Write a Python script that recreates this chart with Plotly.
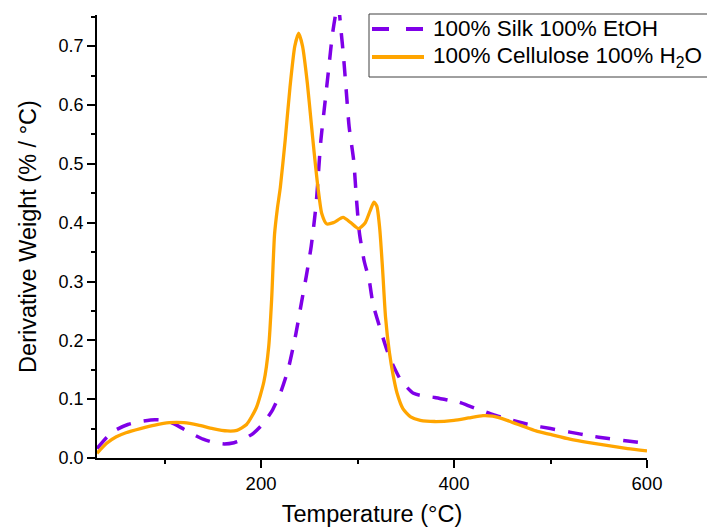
import plotly.graph_objects as go

# Cellulose 100% H2O (orange, solid)
cel_t = [30, 40, 50, 60, 75, 90, 105, 120, 135, 150, 165, 175, 185, 195, 203, 208, 211, 214, 217, 220,
         225, 230, 235, 239, 243, 248, 252, 255, 259, 263, 268, 275, 285, 293, 301, 308, 313, 317, 320,
         323, 326, 329, 333, 337, 341, 347, 355, 365, 380, 400, 415, 430, 440, 455, 470, 485, 500, 520,
         540, 560, 580, 600]
cel_y = [0.008, 0.025, 0.036, 0.043, 0.050, 0.056, 0.060, 0.060, 0.056, 0.050, 0.046, 0.047, 0.057,
         0.085, 0.13, 0.19, 0.27, 0.38, 0.425, 0.46, 0.54, 0.63, 0.70, 0.722, 0.70, 0.637, 0.57, 0.52,
         0.46, 0.415, 0.398, 0.400, 0.409, 0.400, 0.390, 0.400, 0.420, 0.435, 0.428, 0.39, 0.32, 0.24,
         0.18, 0.14, 0.11, 0.084, 0.070, 0.064, 0.062, 0.064, 0.068, 0.072, 0.071, 0.064, 0.055, 0.046,
         0.040, 0.032, 0.026, 0.021, 0.016, 0.012]

# Silk 100% EtOH (purple, dashed)
silk_t = [30, 40, 50, 62, 75, 90, 100, 110, 120, 130, 140, 152, 162, 172, 182, 192, 202, 212, 220, 228,
          236, 242, 247, 252, 257, 262, 266, 270, 274, 278, 280, 283, 285.5, 288.5, 291.3, 296, 299, 302,
          307, 312, 316, 324, 333, 345, 358, 370, 380, 395, 405, 418, 428, 440, 450, 465, 480, 500, 520,
          540, 560, 580, 600]
silk_y = [0.016, 0.035, 0.048, 0.057, 0.062, 0.065, 0.064, 0.058, 0.049, 0.040, 0.032, 0.026, 0.024,
          0.026, 0.032, 0.042, 0.058, 0.082, 0.11, 0.15, 0.21, 0.265, 0.31, 0.36, 0.43, 0.54, 0.60,
          0.66, 0.72, 0.76, 0.77, 0.725, 0.682, 0.62, 0.563, 0.506, 0.438, 0.382, 0.334, 0.303, 0.262,
          0.217, 0.172, 0.132, 0.11, 0.105, 0.103, 0.098, 0.095, 0.087, 0.081, 0.074, 0.069, 0.062,
          0.056, 0.050, 0.044, 0.038, 0.033, 0.029, 0.025]

names = ["100% Silk 100% EtOH", "100% Cellulose 100% H<sub>2</sub>O"]
colors = ["#7F00E8", "#FFA500"]
dashes = ["15px,13px", "solid"]
widths = [3.5, 3.3]

fig = go.Figure()
fig.add_trace(go.Scatter(x=silk_t, y=silk_y, mode="lines", name=names[0], showlegend=False,
                         line=dict(color=colors[0], width=widths[0], dash=dashes[0], shape="spline", smoothing=0.6)))
fig.add_trace(go.Scatter(x=cel_t, y=cel_y, mode="lines", name=names[1], showlegend=False,
                         line=dict(color=colors[1], width=widths[1], dash=dashes[1], shape="spline", smoothing=0.6)))

# Legend (drawn in paper coordinates, box runs off the right edge as in the reference)
L, R, T, B = 97, 647, 15, 458
def px(xp):
    return (xp - L) / (R - L)
def py(yp):
    return (B - yp) / (B - T)

fig.add_shape(type="rect", xref="paper", yref="paper", x0=px(369), x1=px(760), y0=py(77), y1=py(14),
              line=dict(color="#404040", width=1), fillcolor="white", layer="above")
rows = [29, 57]
for i in range(2):
    fig.add_shape(type="line", xref="paper", yref="paper", x0=px(372), x1=px(424), y0=py(rows[i]), y1=py(rows[i]),
                  line=dict(color=colors[i], width=widths[i] + 0.5, dash="17px,17px" if i == 0 else "solid"),
                  layer="above")
    fig.add_annotation(xref="paper", yref="paper", x=px(431), y=py(rows[i]), xanchor="left", yanchor="middle",
                       text=names[i], showarrow=False, font=dict(size=22.5, color="black"))

font_family = "Liberation Sans, Arial, sans-serif"
fig.update_layout(
    width=707, height=527,
    margin=dict(l=L, r=707 - R, t=T, b=527 - B, autoexpand=False),
    paper_bgcolor="white", plot_bgcolor="white",
    font=dict(family=font_family, color="black", size=18),
    showlegend=False,
    xaxis=dict(range=[30, 600], showline=True, linecolor="black", linewidth=1.5,
               ticks="outside", ticklen=8, tickwidth=1.5, tickcolor="black",
               tick0=0, dtick=200, showgrid=False, zeroline=False,
               minor=dict(ticks="outside", ticklen=4, tickwidth=1.5, tickcolor="black", dtick=100, showgrid=False),
               tickfont=dict(size=18.5),
               title=dict(text="Temperature (°C)", font=dict(size=23.5), standoff=13)),
    yaxis=dict(range=[0, 0.753], showline=True, linecolor="black", linewidth=1.5,
               ticks="outside", ticklen=8, tickwidth=1.5, tickcolor="black",
               tick0=0, dtick=0.1, tickformat=".1f", showgrid=False, zeroline=False,
               minor=dict(ticks="outside", ticklen=4, tickwidth=1.5, tickcolor="black", dtick=0.05, showgrid=False),
               tickfont=dict(size=18),
               title=dict(text="Derivative Weight (% / °C)", font=dict(size=23.5), standoff=15)),
)

fig.write_html("out.html")
